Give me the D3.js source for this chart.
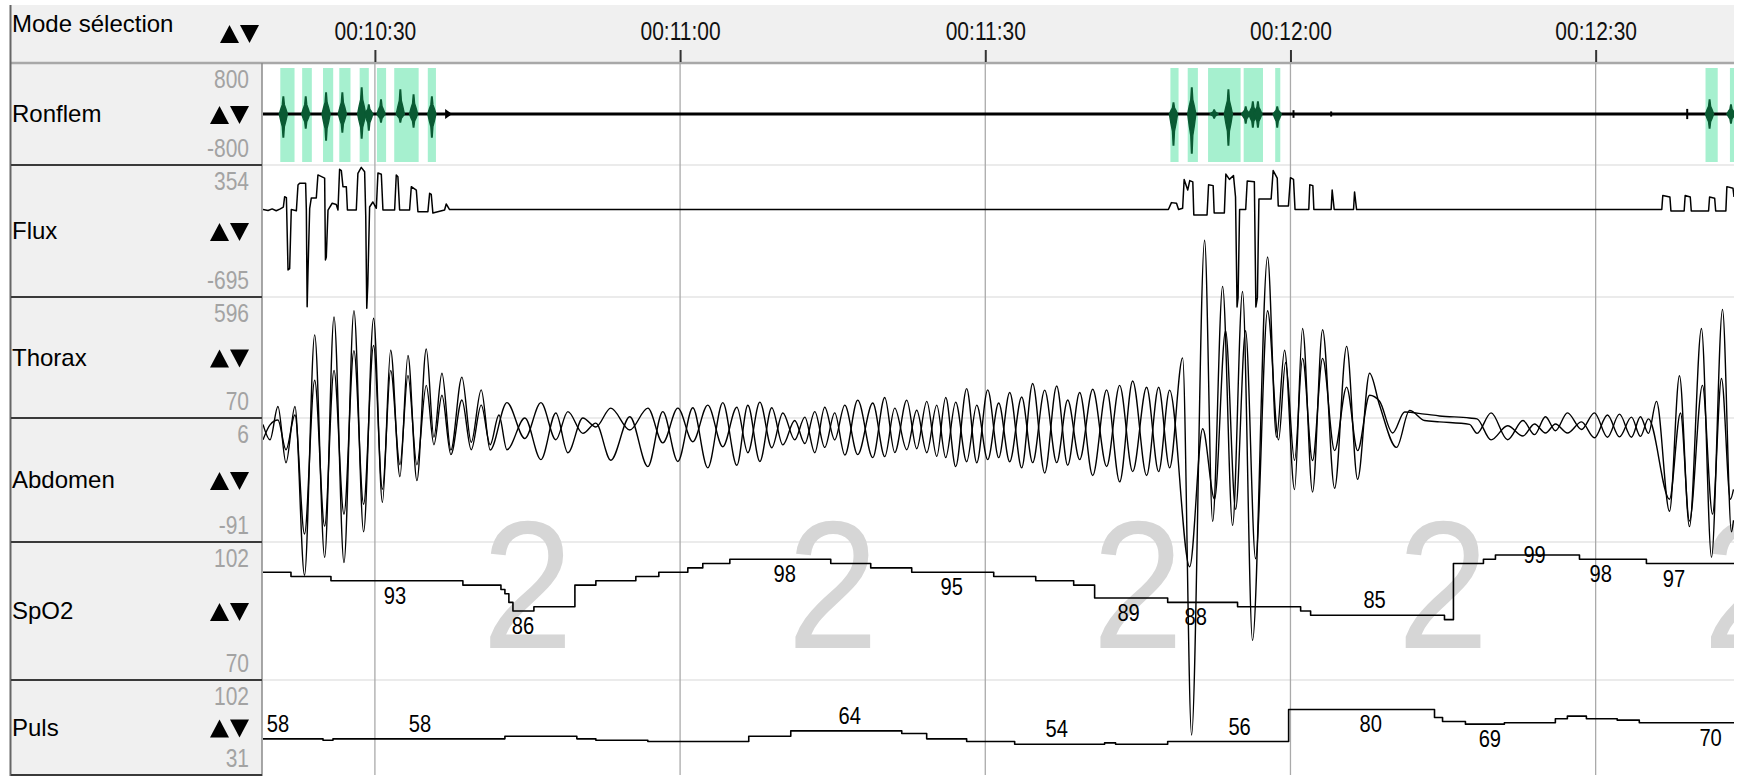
<!DOCTYPE html>
<html>
<head>
<meta charset="utf-8">
<script src="https://cdn.jsdelivr.net/npm/d3@7"></script>
<style>
  body { margin: 0; background: #fff; }
  svg { display: block; }
</style>
</head>
<body>
<div id="chart"></div>
<script>
// ---- data (time in seconds since start of recording) ----
const timeTicks = [630, 660, 690, 720, 750];
const channelNames = ["Ronflem", "Flux", "Thorax", "Abdomen", "SpO2", "Puls"];
const channelMax = [800, 354, 596, 6, 102, 102];
const channelMin = [-800, -695, 70, -91, 70, 31];

const stageEpochs = [645, 675, 705, 735, 765];
const stageValues = ["2", "2", "2", "2", "2"];

// snoring events (green bands) [start, end]
const snoreBands = [
  [620.7, 622.1], [622.85, 623.8], [624.9, 625.9], [626.5, 627.6], [628.5, 629.4],
  [630.2, 631.1], [631.9, 634.3], [635.2, 636.0],
  [708.2, 709.0], [709.9, 710.9], [711.9, 715.1], [715.4, 717.3], [718.5, 719.0],
  [760.8, 762.0], [763.2, 764.2]
];
// snoring bursts [time, max, min]
const snoreBursts = [
  [621.0, 267, -361], [623.2, 267, -220], [625.2, 330, -408], [626.8, 330, -283],
  [628.7, 408, -377], [629.4, 141, -251], [630.6, 220, -126], [632.5, 377, -126],
  [633.8, 298, -204], [635.6, 267, -361],
  [708.5, 173, -487], [710.3, 408, -612], [712.5, 63, -63], [713.9, 377, -487],
  [715.6, 110, -141], [716.3, 188, -204], [716.8, 188, -204], [718.7, 110, -204],
  [761.2, 220, -220], [763.3, 141, -141]
];
const snoreBlips = [[720.3, 60, -60], [724.0, 40, -40], [759.0, 80, -80]];
const snoreMarks = [637.2];

const fluxPts = [
  [619.0, 0], [619.5, -8], [619.9, 5], [620.3, -10], [620.7, 5], [621.0, 20], [621.13, 102], [621.3, 95],
  [621.46, -480], [621.62, -470], [621.78, 0], [622.28, -10], [622.44, 195], [622.6, 209], [623.19, 209],
  [623.26, 0], [623.34, -772], [623.42, -500], [623.59, 10], [623.75, 92], [624.24, 92], [624.40, 275],
  [625.06, 250], [625.14, -400], [625.22, -380], [625.39, -4], [625.8, 50], [626.2, 40], [626.37, -4],
  [626.53, 320], [626.7, 310], [626.86, 182], [627.19, 182], [627.3, -4], [628.17, -4], [628.33, 288],
  [628.66, 335], [628.99, 300], [629.1, -50], [629.2, -785], [629.3, -600], [629.48, 20], [629.8, 60],
  [630.14, 10], [630.30, 290], [630.63, 280], [630.79, -4], [631.94, -4], [632.10, 275], [632.26, 260],
  [632.43, -4], [633.41, -4], [633.58, 182], [634.07, 155], [634.23, -17], [635.21, -17], [635.38, 129],
  [635.54, 120], [635.70, -28], [636.85, -4], [637.01, 44], [637.34, 0],
  [708.0, 0], [708.3, 55], [708.8, 50], [709.0, 0], [709.4, 10], [709.55, 239], [709.9, 155], [710.1, 230],
  [710.4, 220], [710.5, -43], [711.8, -43], [711.95, 197], [712.4, 190], [712.5, -27], [713.5, -27],
  [713.65, 282], [714.0, 240], [714.4, 270], [714.6, 100], [714.75, -774], [714.85, -700], [715.0, 0],
  [715.6, 0], [715.75, 227], [716.45, 220], [716.6, -774], [716.75, -700], [716.9, 84], [718.1, 84],
  [718.3, 310], [718.7, 250], [718.8, 28], [719.8, 28], [720.0, 253], [720.3, 240], [720.45, 0],
  [721.8, 0], [721.9, 197], [722.2, 190], [722.3, 0], [724.0, 0], [724.1, 155], [724.3, 0],
  [726.2, 0], [726.3, 140], [726.5, 0],
  [756.5, 0], [756.6, 112], [757.3, 100], [757.4, -12], [758.7, -12], [758.8, 112], [759.3, 100],
  [759.4, -12], [761.1, -12], [761.2, 100], [761.7, 90], [761.8, -12], [762.8, -12], [762.9, 182],
  [763.5, 170], [763.6, 100]
];

// peaks and troughs of the respiratory belts
const thoraxPts = [
  [619.0, -25], [619.69, 40], [620.47, 61], [621.26, -68], [622.14, 83], [623.08, -434], [624.08, 234],
  [625.06, -400], [625.98, 277], [626.96, -348], [627.94, 363], [628.89, -305], [629.87, 385], [630.74, -240],
  [631.55, 277], [632.46, -133], [633.25, 255], [634.13, -133], [635.05, 212], [635.80, -46], [636.59, 169],
  [637.47, -89], [638.55, 148], [639.47, -68], [640.45, 126], [641.33, -46], [642.19, 83],
  [642.98, -68], [644.74, 70], [646.32, -111], [647.79, 92], [648.97, -81], [650.44, 70], [651.72, 31],
  [653.19, 113], [655.06, 18], [656.83, 113], [658.30, -38], [659.78, 113], [661.25, -33], [662.72, 126],
  [664.20, -55], [665.58, 117], [666.66, -81], [667.84, 139], [669.01, -59], [670.10, 92], [671.27, -25],
  [672.26, 74], [673.24, -81], [674.22, 117], [675.20, -25], [676.19, 126], [677.46, -89], [678.94, 135],
  [680.12, -98], [681.10, 113], [682.28, -68], [683.26, 104], [684.25, -81], [685.23, 126], [686.11, -102],
  [687.09, 139], [688.17, -120], [689.16, 126], [690.24, -111], [691.32, 135], [692.40, -120], [693.58, 161],
  [694.66, -124], [695.84, 191], [697.02, -124], [698.10, 148], [699.28, -111], [700.56, 195], [701.93, -141],
  [703.21, 212], [704.49, -163], [705.86, 204], [707.04, -163], [708.12, 191],
  [710.09, -577], [711.37, 23], [712.54, -283], [713.62, 449], [714.61, -327], [715.59, 449], [716.57, -542],
  [717.75, 536], [718.83, -25], [719.52, 311], [720.40, -115], [721.19, 329], [722.17, -115], [723.16, 329],
  [724.34, -72], [725.52, 204], [726.60, -72], [727.78, 169], [728.76, 143], [730.04, 5], [731.22, 96],
  [733.18, 87], [734.65, 79], [737.60, 70],
  [738.34, 66], [739.72, -25], [741.34, 36], [742.86, -8], [743.99, 44], [745.07, 5], [746.05, 44],
  [747.23, 5], [748.61, 53], [749.88, -16], [751.16, 83], [752.34, -12], [753.52, 74], [754.40, -10],
  [755.19, 66],
  [757.26, -283], [758.34, 92], [759.22, -378], [760.50, 212], [761.49, -348], [762.37, 242], [763.25, -283],
  [763.55, -240]
];
const abdomenPts = [
  [619.0, 1], [619.69, -11], [620.47, 15], [621.26, -29], [622.14, 15], [623.08, -117], [624.08, 71],
  [625.06, -103], [625.98, 85], [626.96, -107], [627.94, 90], [628.89, -83], [629.87, 84], [630.74, -60],
  [631.55, 59], [632.46, -40], [633.25, 55], [634.13, -43], [635.05, 60], [635.80, -9], [636.59, 41],
  [637.47, -19], [638.55, 38], [639.47, -13], [640.45, 28], [641.33, -19],
  [642.98, 18], [644.74, -10], [646.32, 18], [647.79, -11], [648.97, 11], [650.44, -6], [651.72, 2],
  [653.19, -27], [655.06, 7], [656.83, -32], [658.30, 11], [659.78, -28], [661.25, 14], [662.72, -33],
  [664.20, 18], [665.58, -31], [666.66, 16], [667.84, -28], [669.01, 14], [670.10, -15], [671.27, 4],
  [672.26, -14], [673.24, 11], [674.22, -17], [675.20, 10], [676.19, -23], [677.46, 20], [678.94, -25],
  [680.12, 22], [681.10, -21], [682.28, 20], [683.26, -18], [684.25, 19], [685.23, -24], [686.11, 22],
  [687.09, -32], [688.17, 29], [689.16, -29], [690.24, 28], [691.32, -25], [692.40, 26], [693.58, -33],
  [694.66, 33], [695.84, -37], [697.02, 31], [698.10, -31], [699.28, 26], [700.56, -39], [701.93, 28],
  [703.21, -44], [704.49, 35], [705.86, -39], [707.04, 30], [708.12, -33],
  [709.40, 53], [710.28, -242], [711.56, 145], [712.35, -75], [713.33, 109], [714.31, -78], [715.29, 105],
  [716.27, -168], [717.75, 132], [718.63, -9], [719.42, 59], [720.40, -50], [721.19, 76], [722.17, -52],
  [723.16, 75], [724.34, -49], [725.52, 62], [726.60, -42], [727.78, 41], [728.76, 16], [730.43, -17],
  [731.71, 12], [733.18, 4], [734.65, 3], [737.60, 1],
  [738.34, -6], [739.72, 10], [741.34, -11], [742.86, 4], [743.99, -7], [745.07, 7], [746.05, -4],
  [747.23, 10], [748.61, -3], [749.88, 10], [751.16, -9], [752.34, 9], [753.52, -9], [754.40, 7],
  [755.19, -6],
  [755.98, 19], [757.26, -67], [758.24, 39], [759.22, -79], [760.40, 76], [761.39, -103], [762.47, 91],
  [763.35, -83], [763.55, -74]
];

const spo2Steps = [
  [619.0, 95], [621.75, 94], [625.68, 93], [638.65, 92], [642.39, 91], [642.78, 90], [643.17, 88],
  [643.57, 86], [645.63, 87], [649.66, 92], [651.72, 93], [655.65, 94], [657.91, 95], [660.76, 96],
  [662.23, 97], [664.89, 98], [674.81, 97], [678.74, 96], [682.77, 95], [690.83, 94], [694.96, 93],
  [698.69, 92], [700.75, 89], [707.93, 88], [714.80, 87], [721.00, 86], [721.98, 85], [735.14, 84],
  [736.02, 97], [738.97, 98], [740.15, 99], [748.41, 98], [754.99, 97], [763.6, 97]
];
// [time, value, place] place: b = below line, a = above, o = on the line
const spo2Labels = [
  [631.97, 93, "b"], [644.55, 86, "b"], [670.29, 98, "b"], [686.70, 95, "b"], [704.09, 89, "b"],
  [710.68, 88, "b"], [728.27, 85, "a"], [744.0, 99, "o"], [750.5, 98, "b"], [757.7, 97, "b"]
];

const pulsSteps = [
  [619.0, 58], [624.90, 57], [625.88, 58], [642.78, 60], [649.85, 58], [651.72, 57], [656.83, 56],
  [666.75, 60], [670.88, 64], [681.79, 62], [684.24, 58], [688.17, 56], [692.89, 54], [701.73, 55],
  [702.81, 54], [707.93, 56], [719.82, 80], [734.16, 74], [734.95, 71], [737.20, 69], [741.03, 70],
  [746.04, 73], [747.22, 75], [749.09, 73], [752.12, 72], [754.29, 70], [763.6, 70]
];
const pulsLabels = [
  [620.47, 58, "a"], [634.43, 58, "a"], [676.68, 64, "a"], [697.02, 54, "a"], [715.0, 56, "a"],
  [727.9, 80, "b"], [739.6, 69, "b"], [761.3, 70, "b"]
];

// ---- layout ----
const W = 1744, H = 776;
const plotL = 263, plotR = 1734;
const rowEdges = [63, 165, 297, 418, 542, 680, 775];
const font = '"Liberation Sans", Arial, sans-serif';
const squeeze = 0.84;   // digits of the original are narrow

const svg = d3.select("#chart").append("svg")
    .attr("width", W)
    .attr("height", H);

svg.append("rect").attr("width", W).attr("height", H).attr("fill", "#fff");

const x = d3.scaleLinear().domain([619, 763.6]).range([plotL, plotR]);
const y = channelNames.map((n, i) =>
    d3.scaleLinear().domain([channelMin[i], channelMax[i]]).range([rowEdges[i + 1], rowEdges[i]]));

// narrow text helper
function narrowText(g, px, py, txt, size, anchor, color) {
  return g.append("text")
    .attr("transform", `translate(${px},${py}) scale(${squeeze},1)`)
    .attr("text-anchor", anchor)
    .attr("font-family", font)
    .attr("font-size", size)
    .attr("fill", color)
    .text(txt);
}

svg.append("defs").append("clipPath").attr("id", "plotClip")
  .append("rect")
    .attr("x", plotL).attr("y", rowEdges[0])
    .attr("width", plotR - plotL).attr("height", rowEdges[6] - rowEdges[0]);

const plot = svg.append("g").attr("clip-path", "url(#plotClip)");

// light row separators
plot.selectAll(".rowsep")
  .data(rowEdges.slice(1, 6))
  .enter().append("line")
    .attr("x1", plotL).attr("x2", plotR)
    .attr("y1", d => d).attr("y2", d => d)
    .attr("stroke", "#ebebeb").attr("stroke-width", 2);

// sleep stage watermarks
plot.selectAll(".stage")
  .data(stageEpochs)
  .enter().append("text")
    .attr("transform", d => `translate(${x(d)},648) scale(0.9,1)`)
    .attr("text-anchor", "middle")
    .attr("font-family", font)
    .attr("font-size", 182)
    .attr("fill", "#d6d6d6")
    .text((d, i) => stageValues[i]);

// vertical grid
plot.selectAll(".grid")
  .data(timeTicks)
  .enter().append("line")
    .attr("x1", d => x(d)).attr("x2", d => x(d))
    .attr("y1", rowEdges[0]).attr("y2", rowEdges[6])
    .attr("stroke", "#aaa").attr("stroke-width", 1.3);

// Ronflem
plot.selectAll(".band")
  .data(snoreBands)
  .enter().append("rect")
    .attr("x", d => x(d[0]))
    .attr("width", d => x(d[1]) - x(d[0]))
    .attr("y", rowEdges[0] + 5)
    .attr("height", rowEdges[1] - rowEdges[0] - 8)
    .attr("fill", "#a6f0cf");

plot.append("line")
    .attr("x1", x(619)).attr("x2", x(763.6))
    .attr("y1", y[0](0)).attr("y2", y[0](0))
    .attr("stroke", "#000").attr("stroke-width", 3.2);

const spindle = [[-0.4, 0], [-0.25, 0.3], [-0.1, 0.55], [-0.03, 1], [0.03, 1], [0.1, 0.55], [0.25, 0.3], [0.4, 0]];
function burstPath(d) {
  const up = spindle.map(p => [x(d[0] + p[0]), y[0](p[1] * d[1])]);
  const dn = spindle.slice().reverse().map(p => [x(d[0] + p[0]), y[0](p[1] * d[2])]);
  return "M" + up.concat(dn).map(p => p.join(",")).join("L") + "Z";
}
plot.selectAll(".burst")
  .data(snoreBursts)
  .enter().append("path")
    .attr("d", burstPath)
    .attr("fill", "#0a5a33")
    .attr("stroke", "#0a5a33").attr("stroke-width", 1.4);

plot.selectAll(".blip")
  .data(snoreBlips)
  .enter().append("line")
    .attr("x1", d => x(d[0])).attr("x2", d => x(d[0]))
    .attr("y1", d => y[0](d[1])).attr("y2", d => y[0](d[2]))
    .attr("stroke", "#000").attr("stroke-width", 2);

plot.selectAll(".mark")
  .data(snoreMarks)
  .enter().append("path")
    .attr("d", d => `M${x(d) - 3},${y[0](0) - 5}L${x(d) + 4},${y[0](0)}L${x(d) - 3},${y[0](0) + 5}Z`)
    .attr("fill", "#000");

// signals
function drawLine(data, scale, curve, width) {
  plot.append("path")
    .datum(data)
    .attr("fill", "none")
    .attr("stroke", "#000")
    .attr("stroke-width", width)
    .attr("stroke-linejoin", "round")
    .attr("d", d3.line().x(d => x(d[0])).y(d => scale(d[1])).curve(curve));
}
drawLine(fluxPts, y[1], d3.curveLinear, 1.5);
drawLine(thoraxPts, y[2], d3.curveMonotoneX, 1.4);
drawLine(abdomenPts, y[3], d3.curveMonotoneX, 1.4);
drawLine(spo2Steps, y[4], d3.curveStepAfter, 1.6);
drawLine(pulsSteps, y[5], d3.curveStepAfter, 1.6);

function drawLabels(data, scale) {
  data.forEach(d => {
    const off = d[2] === "b" ? 23 : d[2] === "a" ? -7 : 8.5;
    narrowText(plot, x(d[0]), scale(d[1]) + off, d[1], 24, "middle", "#000");
  });
}
drawLabels(spo2Labels, y[4]);
drawLabels(pulsLabels, y[5]);

// ---- left panel ----
svg.append("rect")
    .attr("x", 10).attr("y", 5)
    .attr("width", plotL - 11).attr("height", H - 5)
    .attr("fill", "#f0f0f0");

// header
svg.append("rect")
    .attr("x", 10).attr("y", 5)
    .attr("width", plotR - 10).attr("height", rowEdges[0] - 5)
    .attr("fill", "#f0f0f0");
svg.append("line")
    .attr("x1", 10).attr("x2", plotR)
    .attr("y1", rowEdges[0]).attr("y2", rowEdges[0])
    .attr("stroke", "#a8a8a8").attr("stroke-width", 2.5);

svg.append("line")
    .attr("x1", 10.5).attr("x2", 10.5).attr("y1", 5).attr("y2", H)
    .attr("stroke", "#666").attr("stroke-width", 2);
svg.append("line")
    .attr("x1", plotL - 1).attr("x2", plotL - 1).attr("y1", rowEdges[0]).attr("y2", H)
    .attr("stroke", "#8a8a8a").attr("stroke-width", 1.5);

svg.selectAll(".panelsep")
  .data(rowEdges.slice(1))
  .enter().append("line")
    .attr("x1", 11).attr("x2", plotL - 1)
    .attr("y1", d => d).attr("y2", d => d)
    .attr("stroke", "#3a3a3a").attr("stroke-width", 2);

function arrows(g, x0, yc) {
  g.append("path")
    .attr("d", `M${x0},${yc + 9}L${x0 + 9.5},${yc - 9}L${x0 + 19},${yc + 9}Z`)
    .attr("fill", "#000");
  g.append("path")
    .attr("d", `M${x0 + 20},${yc - 9}L${x0 + 39},${yc - 9}L${x0 + 29.5},${yc + 9}Z`)
    .attr("fill", "#000");
}

const panel = svg.append("g");
channelNames.forEach((name, i) => {
  const top = rowEdges[i], bot = rowEdges[i + 1], mid = (top + bot) / 2;
  panel.append("text")
    .attr("x", 12).attr("y", mid + 8)
    .attr("font-family", font).attr("font-size", 24)
    .attr("fill", "#000")
    .text(name);
  arrows(panel, 210, mid + 1);
  narrowText(panel, 249, top + 25, channelMax[i], 25, "end", "#a3a3a3");
  narrowText(panel, 249, bot - 8, channelMin[i], 25, "end", "#a3a3a3");
});

svg.append("text")
    .attr("x", 12).attr("y", 32)
    .attr("font-family", font).attr("font-size", 24)
    .attr("fill", "#000")
    .text("Mode sélection");
arrows(svg.append("g"), 220, 34);

// time axis
const fmt = s => "00:" + String(Math.floor(s / 60)).padStart(2, "0") + ":" + String(s % 60).padStart(2, "0");
const axis = svg.append("g")
    .attr("transform", `translate(0,${rowEdges[0] - 1})`)
    .call(d3.axisTop(x).tickValues(timeTicks).tickSize(12).tickPadding(10).tickFormat(fmt));
axis.select(".domain").remove();
axis.selectAll(".tick line").attr("stroke", "#333").attr("stroke-width", 2);
axis.selectAll(".tick text")
    .attr("transform", `scale(${squeeze},1)`)
    .attr("font-family", font)
    .attr("font-size", 25)
    .attr("fill", "#111");
</script>
</body>
</html>
